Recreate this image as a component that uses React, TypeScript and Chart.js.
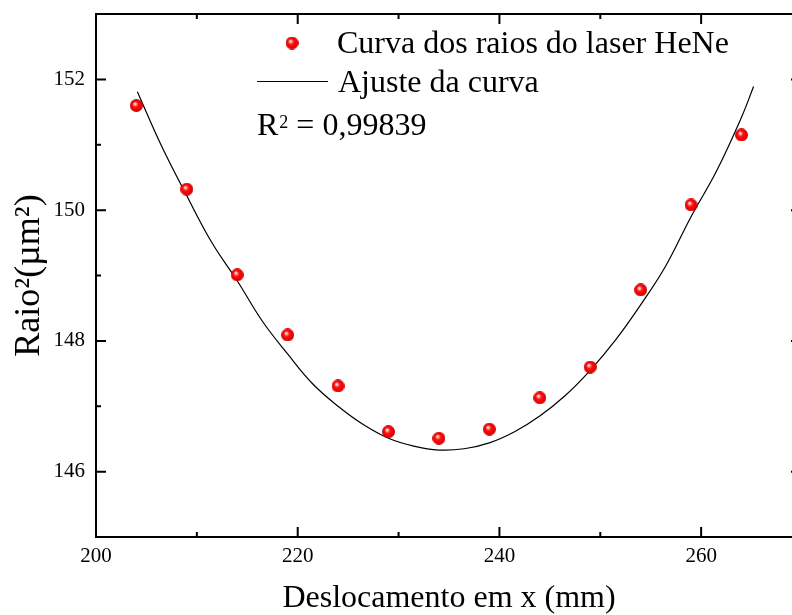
import React, { useEffect, useRef } from "react";
import { Chart, registerables } from "chart.js";

Chart.register(...registerables);

// ---- data ----
const xValues = [204, 209, 214, 219, 224, 229, 234, 239, 244, 249, 254, 259, 264];
const yValues = [151.6, 150.32, 149.01, 148.09, 147.31, 146.61, 146.51, 146.65, 147.13, 147.6, 148.78, 150.08, 151.15];

const fitX = [204.1, 206.5, 209, 211.5, 214, 216.5, 219, 221.5, 224, 226.5, 229, 231.5, 234, 236.5, 239, 241.5, 244, 246.5, 249, 251.5, 254, 256.5, 259, 261.5, 264, 265.2];
const fitY = [151.81, 150.98, 150.22, 149.5, 148.92, 148.3, 147.8, 147.34, 147.0, 146.72, 146.51, 146.39, 146.33, 146.35, 146.44, 146.61, 146.85, 147.16, 147.55, 148.01, 148.55, 149.15, 149.9, 150.59, 151.42, 151.89];

const xMajorTicks = [200, 220, 240, 260];
const xMinorTicks = [210, 230, 250];
const yMajorTicks = [146, 148, 150, 152];
const yMinorTicks = [147, 149, 151];

const seriesLabels = ["Curva dos raios do laser HeNe", "Ajuste da curva"];
const rSquared = "0,99839";
const xTitle = "Deslocamento em x (mm)";
const yTitle = "Raio\u00B2(\u00B5m\u00B2)";

const FONT = "'Liberation Serif', 'Times New Roman', Times, serif";

function makeSphere(d: number): HTMLCanvasElement {
  const c = document.createElement("canvas");
  c.width = d;
  c.height = d;
  const g = c.getContext("2d")!;
  const r = d / 2;
  const grad = g.createRadialGradient(r - 1.6, r - 2, 0.2, r, r, r);
  grad.addColorStop(0, "#ffffff");
  grad.addColorStop(0.18, "#ffa0a0");
  grad.addColorStop(0.4, "#ff1010");
  grad.addColorStop(0.8, "#ee0000");
  grad.addColorStop(1, "#bb0000");
  g.fillStyle = grad;
  g.beginPath();
  g.arc(r, r, r, 0, Math.PI * 2);
  g.fill();
  return c;
}

export default function App() {
  const ref = useRef<HTMLCanvasElement | null>(null);

  useEffect(() => {
    const canvas = ref.current;
    if (!canvas) return;
    const sphere = makeSphere(13);

    const framePlugin = {
      id: "originFrame",
      afterDatasetsDraw(chart: any) {
        const { ctx, chartArea } = chart;
        const xs = chart.scales.x;
        const ys = chart.scales.y;
        const { left, right, top, bottom } = chartArea;
        ctx.save();
        ctx.strokeStyle = "#000";
        ctx.lineWidth = 2;
        ctx.beginPath();
        ctx.rect(left, top, right - left, bottom - top);
        ctx.stroke();
        const major = 10;
        const minor = 5;
        ctx.beginPath();
        xMajorTicks.forEach((v) => {
          const px = xs.getPixelForValue(v);
          ctx.moveTo(px, bottom); ctx.lineTo(px, bottom - major);
          ctx.moveTo(px, top); ctx.lineTo(px, top + major);
        });
        xMinorTicks.forEach((v) => {
          const px = xs.getPixelForValue(v);
          ctx.moveTo(px, bottom); ctx.lineTo(px, bottom - minor);
          ctx.moveTo(px, top); ctx.lineTo(px, top + minor);
        });
        yMajorTicks.forEach((v) => {
          const py = ys.getPixelForValue(v);
          ctx.moveTo(left, py); ctx.lineTo(left + major, py);
          ctx.moveTo(right, py); ctx.lineTo(right - major - 1, py);
        });
        yMinorTicks.forEach((v) => {
          const py = ys.getPixelForValue(v);
          ctx.moveTo(left, py); ctx.lineTo(left + minor, py);
          ctx.moveTo(right, py); ctx.lineTo(right - minor, py);
        });
        ctx.stroke();

        // legend
        ctx.fillStyle = "#000";
        ctx.textBaseline = "alphabetic";
        ctx.textAlign = "left";
        ctx.drawImage(sphere, 292 - 6.5, 43 - 6.5);
        ctx.font = `32px ${FONT}`;
        ctx.fillText(seriesLabels[0], 337, 53);
        ctx.lineWidth = 1;
        ctx.beginPath();
        ctx.moveTo(257, 81.5);
        ctx.lineTo(328, 81.5);
        ctx.stroke();
        ctx.fillText(seriesLabels[1], 338, 92);
        // R^2 text
        let x0 = 257;
        ctx.fillText("R", x0, 135);
        x0 += ctx.measureText("R").width + 1;
        ctx.font = `18px ${FONT}`;
        ctx.fillText("2", x0, 128);
        x0 += ctx.measureText("2").width;
        ctx.font = `32px ${FONT}`;
        ctx.fillText(" = " + rSquared, x0, 135);
        ctx.restore();
      },
    };

    const chart = new Chart(canvas, {
      type: "scatter",
      data: {
        datasets: [
          {
            label: seriesLabels[1],
            data: fitX.map((x, i) => ({ x, y: fitY[i] })),
            showLine: true,
            borderColor: "#000",
            backgroundColor: "#000",
            borderWidth: 1.2,
            pointRadius: 0,
            tension: 0.4,
            order: 2,
          },
          {
            label: seriesLabels[0],
            data: xValues.map((x, i) => ({ x, y: yValues[i] })),
            showLine: false,
            pointStyle: sphere as any,
            pointRadius: 6.5,
            order: 1,
          },
        ],
      },
      options: {
        responsive: false,
        animation: false,
        devicePixelRatio: 1,
        layout: { padding: { left: 0, top: 14, right: 28, bottom: 0 } },
        plugins: { legend: { display: false }, tooltip: { enabled: false } },
        scales: {
          x: {
            type: "linear",
            min: 200,
            max: 270,
            afterBuildTicks: (s: any) => {
              s.ticks = xMajorTicks.map((v) => ({ value: v }));
            },
            afterFit: (s: any) => {
              s.height = 78;
              s.paddingLeft = 0;
              s.paddingRight = 0;
              s.paddingTop = 0;
              s.paddingBottom = 0;
            },
            grid: { display: false, drawTicks: false },
            border: { display: false },
            ticks: {
              color: "#000",
              font: { family: FONT, size: 21 },
              padding: 7,
              maxRotation: 0,
              autoSkip: false,
            },
            title: {
              display: true,
              text: xTitle,
              color: "#000",
              font: { family: FONT, size: 32, lineHeight: 1 },
              padding: { top: 0, bottom: 0.5 },
            },
          },
          y: {
            type: "linear",
            min: 145,
            max: 153,
            afterBuildTicks: (s: any) => {
              s.ticks = yMajorTicks.map((v) => ({ value: v }));
            },
            afterFit: (s: any) => {
              s.width = 96;
              s.paddingLeft = 0;
              s.paddingRight = 0;
              s.paddingTop = 0;
              s.paddingBottom = 0;
            },
            grid: { display: false, drawTicks: false },
            border: { display: false },
            ticks: {
              color: "#000",
              font: { family: FONT, size: 21 },
              padding: 11,
              autoSkip: false,
            },
            title: {
              display: true,
              text: yTitle,
              color: "#000",
              font: { family: FONT, size: 36, lineHeight: 1 },
              padding: { top: 11.5, bottom: 0 },
            },
          },
        },
      },
      plugins: [framePlugin],
    } as any);

    return () => chart.destroy();
  }, []);

  return (
    <div
      style={{
        position: "absolute",
        left: 0,
        top: 0,
        width: 792,
        height: 615,
        overflow: "hidden",
        background: "#fff",
      }}
    >
      <canvas ref={ref} width={830} height={615} style={{ display: "block", width: 830, height: 615 }} />
    </div>
  );
}
